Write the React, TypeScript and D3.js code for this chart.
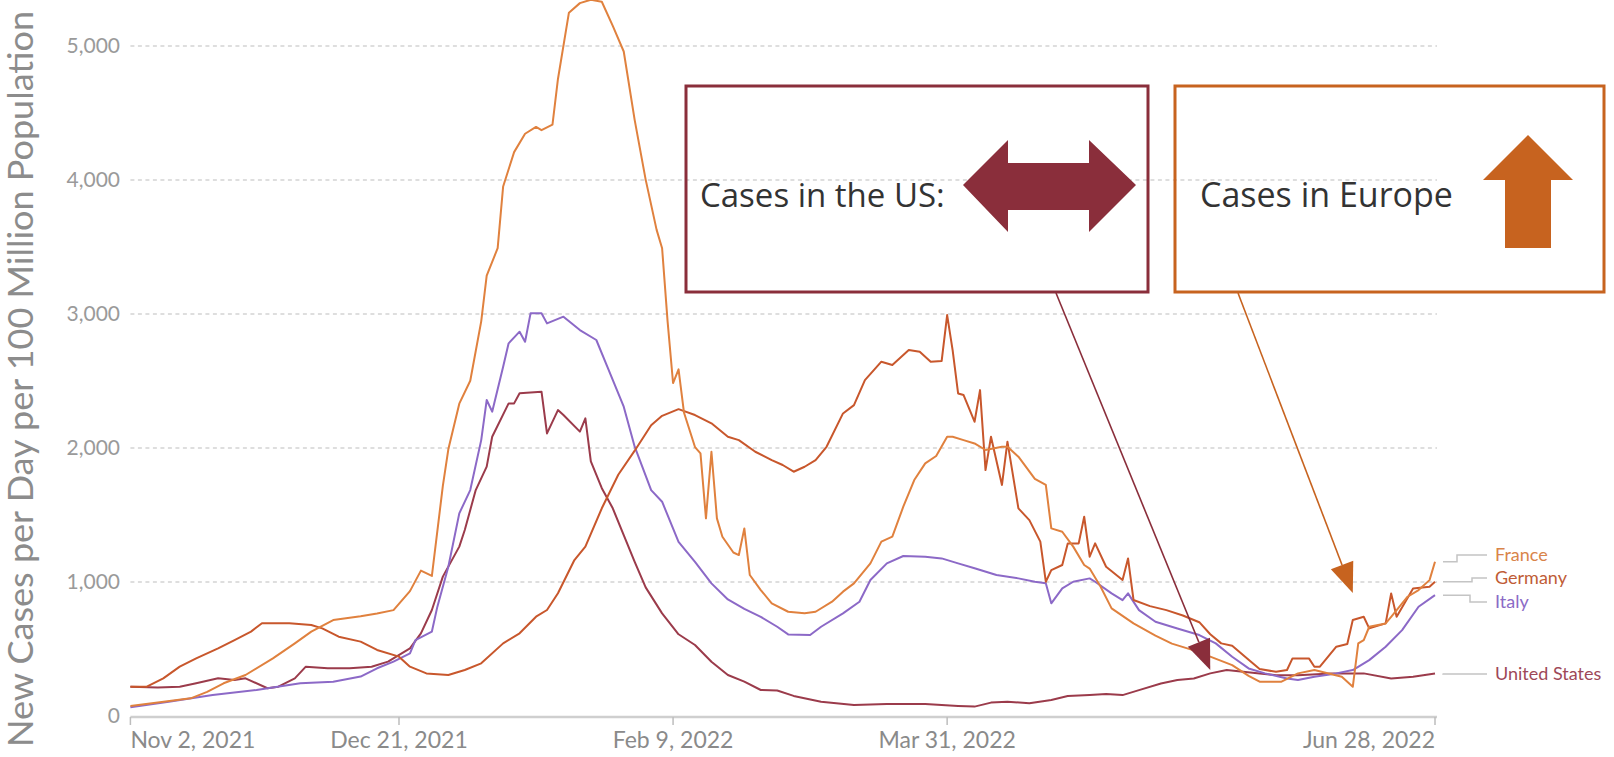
import * as d3 from "d3";

// Days are counted from Nov 2, 2021; values are new cases per day per 100M.
const START = new Date(2021, 10, 2);
const END = new Date(2022, 5, 28);

const TICK_DATES = ["2021-11-02", "2021-12-21", "2022-02-09", "2022-03-31", "2022-06-28"];
const TICK_LABELS = ["Nov 2, 2021", "Dec 21, 2021", "Feb 9, 2022", "Mar 31, 2022", "Jun 28, 2022"];
const Y_TICKS = [0, 1000, 2000, 3000, 4000, 5000];

const FRANCE: [number, number][] = [
    [0, 75], [5, 100], [11, 132], [14, 180], [17, 244], [21, 306], [26, 430], [30, 542], [33, 630], [37, 716],
    [42, 744], [45, 765], [48, 790], [51, 932], [53, 1085], [55, 1045], [57, 1717], [58, 1990], [60, 2331], [62, 2502],
    [64, 2945], [65, 3287], [67, 3491], [68, 3952], [70, 4208], [72, 4345], [74, 4396], [75, 4372], [77, 4413], [78, 4754],
    [80, 5249], [82, 5320], [84, 5345], [86, 5330], [88, 5150], [90, 4959], [92, 4447], [94, 4003], [96, 3628], [97, 3491],
    [98, 2945], [99, 2485], [100, 2587], [101, 2263], [103, 2007], [104, 1960], [105, 1475], [106, 1972], [107, 1475], [108, 1338],
    [110, 1220], [111, 1201], [112, 1400], [113, 1052], [115, 940], [117, 841], [120, 778], [123, 766], [125, 778], [128, 853],
    [130, 928], [132, 990], [135, 1139], [137, 1301], [139, 1338], [141, 1562], [143, 1761], [145, 1885], [147, 1940], [149, 2084],
    [150, 2084], [152, 2059], [154, 2034], [156, 1985], [159, 2009], [160, 2009], [162, 1935], [165, 1770], [167, 1724], [168, 1400],
    [170, 1375], [172, 1264], [174, 1127], [175, 1100], [177, 965], [179, 803], [183, 691], [187, 600], [190, 540], [194, 490],
    [197, 443], [201, 380], [204, 300], [206, 256], [210, 256], [213, 318], [216, 343], [221, 293], [223, 218], [224, 542],
    [225, 567], [226, 666], [229, 691], [230, 740], [233, 890], [235, 940], [237, 1014], [238, 1151],
];

const GERMANY: [number, number][] = [
    [0, 219], [3, 219], [6, 281], [9, 368], [12, 430], [16, 505], [19, 567], [22, 630], [24, 692], [29, 692],
    [33, 679], [35, 654], [38, 592], [42, 555], [45, 493], [49, 443], [51, 368], [54, 318], [58, 306], [61, 343],
    [64, 393], [68, 542], [71, 617], [74, 741], [76, 791], [78, 916], [81, 1164], [83, 1264], [86, 1550], [89, 1800],
    [92, 1980], [95, 2170], [97, 2240], [100, 2290], [103, 2246], [106, 2184], [109, 2084], [111, 2059], [114, 1972], [117, 1910],
    [119, 1873], [121, 1823], [123, 1860], [125, 1910], [127, 2009], [130, 2258], [132, 2320], [134, 2507], [137, 2644], [139, 2619],
    [142, 2731], [144, 2718], [146, 2644], [148, 2650], [149, 2992], [150, 2731], [151, 2407], [152, 2395], [154, 2196], [155, 2432],
    [156, 1835], [157, 2084], [159, 1724], [160, 2047], [162, 1549], [164, 1462], [166, 1301], [167, 1002], [168, 1089], [170, 1127],
    [171, 1288], [173, 1288], [174, 1487], [175, 1189], [176, 1288], [178, 1114], [181, 1015], [182, 1176], [183, 866], [186, 820],
    [189, 790], [192, 750], [195, 700], [197, 610], [199, 542], [201, 525], [204, 420], [206, 350], [209, 330], [211, 343],
    [212, 430], [215, 430], [216, 368], [217, 368], [220, 517], [222, 537], [223, 716], [225, 741], [226, 654], [229, 691],
    [230, 915], [231, 741], [234, 952], [237, 964], [238, 1002],
];

const ITALY: [number, number][] = [
    [0, 65], [7, 107], [15, 157], [23, 194], [31, 244], [37, 256], [42, 294], [45, 356], [48, 406], [51, 468],
    [52, 567], [55, 630], [56, 816], [58, 1114], [60, 1512], [62, 1686], [64, 2059], [65, 2358], [66, 2271], [68, 2607],
    [69, 2781], [71, 2868], [72, 2793], [73, 3005], [75, 3005], [76, 2930], [79, 2980], [82, 2880], [85, 2806], [87, 2607],
    [90, 2308], [92, 2010], [95, 1686], [97, 1599], [100, 1300], [103, 1150], [106, 990], [109, 870], [112, 800], [115, 740],
    [118, 666], [120, 609], [124, 604], [126, 666], [130, 766], [133, 853], [135, 1015], [138, 1139], [141, 1194], [145, 1189],
    [148, 1176], [151, 1139], [154, 1102], [158, 1052], [162, 1027], [165, 1002], [167, 990], [168, 841], [170, 952], [172, 1002],
    [175, 1027], [176, 1002], [179, 915], [181, 865], [182, 915], [184, 790], [187, 703], [191, 653], [195, 604], [198, 542],
    [201, 442], [204, 355], [207, 318], [211, 280], [213, 268], [216, 293], [220, 318], [223, 343], [226, 417], [229, 517],
    [232, 641], [235, 815], [238, 902],
];

const UNITED_STATES: [number, number][] = [
    [0, 219], [5, 212], [9, 219], [12, 244], [16, 281], [19, 269], [21, 281], [25, 207], [27, 219], [30, 281],
    [32, 368], [36, 356], [40, 356], [44, 368], [47, 406], [51, 505], [53, 617], [55, 791], [57, 1040], [60, 1264],
    [61, 1388], [63, 1686], [65, 1861], [66, 2084], [69, 2333], [70, 2333], [71, 2408], [75, 2420], [76, 2109], [78, 2283],
    [79, 2246], [82, 2122], [83, 2221], [84, 1900], [86, 1700], [88, 1550], [90, 1350], [92, 1150], [94, 960], [97, 766],
    [100, 610], [103, 530], [106, 405], [109, 306], [112, 256], [115, 194], [118, 190], [121, 150], [126, 107], [132, 82],
    [138, 90], [145, 90], [151, 75], [154, 70], [157, 100], [160, 107], [164, 95], [168, 119], [171, 149], [175, 157],
    [178, 165], [181, 156], [184, 193], [188, 243], [191, 268], [194, 280], [197, 318], [200, 343], [203, 330], [206, 318],
    [209, 305], [213, 305], [219, 318], [225, 318], [230, 280], [234, 293], [238, 318],
];

const W = 1614;
const H = 757;
const PLOT = { left: 130.4, right: 1435, zeroY: 716, topY: 46 };

// Label layout on the right: label centre y and where the leader line jogs.
const SERIES = [
    { name: "United States", data: UNITED_STATES, color: "#9b3b4b", label: "#9e4858", labelY: 674, jogX: 0 },
    { name: "Italy", data: ITALY, color: "#8c69c7", label: "#8b6bc6", labelY: 602, jogX: 1470 },
    { name: "Germany", data: GERMANY, color: "#c8572c", label: "#c05c36", labelY: 578, jogX: 1472 },
    { name: "France", data: FRANCE, color: "#e0813e", label: "#d9844a", labelY: 555, jogX: 1457 },
];

const US_RED = "#8a2e3b";
const EU_ORANGE = "#c7631f";

export default function App() {
    const parse = d3.timeParse("%Y-%m-%d");
    const x = d3.scaleTime().domain([START, END]).range([PLOT.left, PLOT.right]);
    const y = d3.scaleLinear().domain([0, 5000]).range([PLOT.zeroY, PLOT.topY]);
    const dayX = (d: number) => x(d3.timeDay.offset(START, d));

    const line = d3
        .line<[number, number]>()
        .x((d) => dayX(d[0]))
        .y((d) => y(d[1]));

    const ticks = TICK_DATES.map((s) => x(parse(s) as Date));

    // Callout arrows point at data positions.
    const usTip: [number, number] = [dayX(197), y(343)];
    const euTip: [number, number] = [dayX(223), y(918)];

    return (
        <div style={{ position: "fixed", left: 0, top: 0, width: W, height: H, background: "#fff" }}>
            <svg width={W} height={H} style={{ display: "block" }} fontFamily="Lato, sans-serif">
                {/* gridlines */}
                {Y_TICKS.filter((t) => t > 0).map((t) => (
                    <line key={t} x1={PLOT.left} x2={PLOT.right + 2} y1={y(t)} y2={y(t)} stroke="#d4d4d4" strokeWidth={1.6} strokeDasharray="4 3.5" />
                ))}
                {Y_TICKS.map((t) => (
                    <text key={t} x={120} y={y(t)} dy="0.35em" textAnchor="end" fontSize={21} fill="#9a9a9a">
                        {d3.format(",")(t)}
                    </text>
                ))}

                {/* x axis */}
                <line x1={PLOT.left} x2={PLOT.right + 2} y1={PLOT.zeroY + 1} y2={PLOT.zeroY + 1} stroke="#cfcfcf" strokeWidth={2.5} />
                {ticks.map((tx, i) => (
                    <g key={i}>
                        <line x1={tx} x2={tx} y1={PLOT.zeroY + 1} y2={PLOT.zeroY + 9} stroke="#bdbdbd" strokeWidth={1.5} />
                        <text
                            x={tx}
                            y={748}
                            fontSize={23}
                            fill="#8a8a8a"
                            textAnchor={i === 0 ? "start" : i === ticks.length - 1 ? "end" : "middle"}
                        >
                            {TICK_LABELS[i]}
                        </text>
                    </g>
                ))}

                <text
                    transform={`translate(33,${379}) rotate(-90)`}
                    textAnchor="middle"
                    fontSize={34}
                    fill="#8c8c8c"
                    textLength={736}
                    lengthAdjust="spacingAndGlyphs"
                >
                    New Cases per Day per 100 Million Population
                </text>

                {/* series */}
                {SERIES.map((s) => (
                    <path key={s.name} d={line(s.data) ?? ""} fill="none" stroke={s.color} strokeWidth={2} strokeLinejoin="round" />
                ))}

                {/* end labels with leader lines */}
                {SERIES.map((s) => {
                    const endY = y(s.data[s.data.length - 1][1]);
                    const d = s.jogX
                        ? `M1443,${endY}H${s.jogX}V${s.labelY}H1487`
                        : `M1443,${endY}V${s.labelY}H1487`;
                    return (
                        <g key={s.name}>
                            <path d={d} fill="none" stroke="#c4c4c4" strokeWidth={1.5} />
                            <text x={1495} y={s.labelY} dy="0.35em" fontSize={18} fill={s.label}>
                                {s.name}
                            </text>
                        </g>
                    );
                })}

                {/* US callout */}
                <rect x={686} y={86} width={462} height={206} fill="none" stroke={US_RED} strokeWidth={3} />
                <text x={700} y={207} fontFamily="'Open Sans', sans-serif" fontSize={33} fill="#333">
                    Cases in the US:
                </text>
                <polygon
                    points="963,185 1008,140 1008,163 1089,163 1089,140 1136,185 1089,232 1089,210 1008,210 1008,232"
                    fill={US_RED}
                />
                <Pointer from={[1056, 293]} to={usTip} color={US_RED} />

                {/* Europe callout */}
                <rect x={1175} y={86} width={429} height={206} fill="none" stroke={EU_ORANGE} strokeWidth={3} />
                <text x={1200} y={207} fontFamily="'Open Sans', sans-serif" fontSize={34} fill="#333">
                    Cases in Europe
                </text>
                <polygon points="1528,135 1573,180 1551,180 1551,248 1505,248 1505,180 1483,180" fill={EU_ORANGE} />
                <Pointer from={[1238, 293]} to={euTip} color={EU_ORANGE} />
            </svg>
        </div>
    );
}

// Thin line ending in a filled triangular head at `to`.
function Pointer({ from, to, color }: { from: [number, number]; to: [number, number]; color: string }) {
    const dx = to[0] - from[0];
    const dy = to[1] - from[1];
    const len = Math.hypot(dx, dy);
    const ux = dx / len;
    const uy = dy / len;
    const headLen = 30;
    const half = 12;
    const bx = to[0] - ux * headLen;
    const by = to[1] - uy * headLen;
    const pts = [
        [to[0], to[1]],
        [bx - uy * half, by + ux * half],
        [bx + uy * half, by - ux * half],
    ]
        .map((p) => p.join(","))
        .join(" ");
    return (
        <g>
            <line x1={from[0]} y1={from[1]} x2={bx} y2={by} stroke={color} strokeWidth={1.6} />
            <polygon points={pts} fill={color} />
        </g>
    );
}
